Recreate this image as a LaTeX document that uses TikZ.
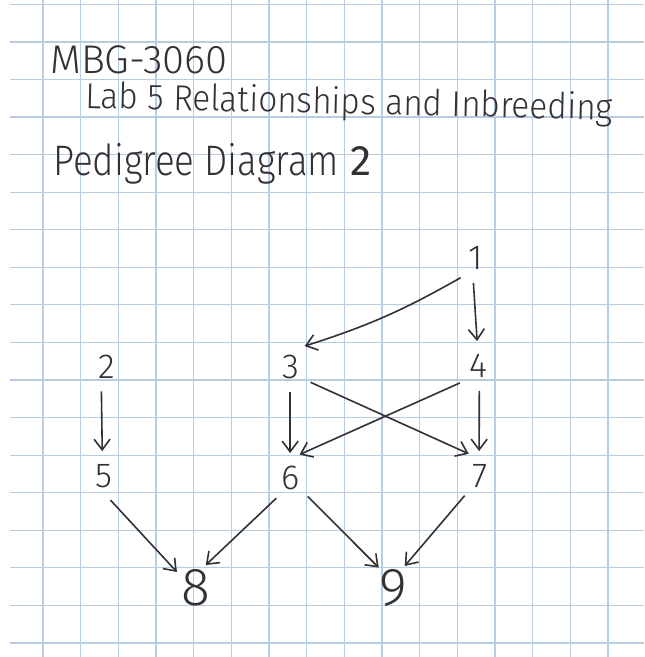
\documentclass[tikz,border=0pt]{standalone}
\usepackage{fontspec}
\setmainfont{Fira Sans}[UprightFont={* Light},BoldFont={*}]
\usetikzlibrary{arrows.meta}
\definecolor{gridblue}{RGB}{184,204,226}
\definecolor{pencil}{RGB}{50,50,54}

\begin{document}
\begin{tikzpicture}[x=0.75pt,y=-0.75pt,
  link/.style={draw=pencil,line width=1.2pt,-{Straight Barb[length=8pt,width=12pt]}},
  pers/.style={circle,inner sep=0pt,minimum size=37pt,text=pencil,font=\fontsize{26}{26}\selectfont},
  kid/.style={pers,font=\fontsize{40}{40}\selectfont},
  hand/.style={text=pencil,inner sep=0pt,anchor=base west}]
  \useasboundingbox (0,0) rectangle (644,657);
  \fill[white] (0,0) rectangle (644,657);
  \foreach \k in {0,...,15}
    \draw[gridblue,line width=0.9pt] ({43+37.67*\k},0) -- ({43+37.67*\k},657);
  \foreach \k in {0,...,17}
    \draw[gridblue,line width=0.9pt] (10,{4.4+37.56*\k}) -- (644,{4.4+37.56*\k});

  \node[hand,font=\fontsize{30}{30}\selectfont] (course) at (50,73) {MBG-3060};
  \node[hand,font=\fontsize{27}{27}\selectfont,rotate=-1.3] (lab) at (85,108)
    {\scalebox{0.93}[1]{Lab 5 Relationships and Inbreeding}};
  \node[hand,font=\fontsize{32}{32}\selectfont] (title) at (53,175)
    {\scalebox{0.86}[1]{Pedigree Diagram} \textbf{2}};

  \node[pers] (n1) at (476,258) {1};
  \node[pers] (n2) at (107,367) {2};
  \node[pers] (n3) at (291,367) {3};
  \node[pers] (n4) at (478,366) {4};
  \node[pers] (n5) at (104,476) {5};
  \node[pers] (n6) at (291,478) {6};
  \node[pers] (n7) at (480,476) {7};
  \node[kid] (n8) at (196,588) {8};
  \node[kid] (n9) at (393,588) {9};

  \draw[link] (n1.232) to[bend left=6] (n3.57);
  \draw[link] (n1.264) -- (n4.92);
  \draw[link] (n2.257) -- (n5.94);
  \draw[link] (n3.268) -- (n6.92);
  \draw[link] (n3.-38) -- (n7.117);
  \draw[link] (n4.223) -- (n6.70);
  \draw[link] (n4.273) -- (n7.92);
  \draw[link] (n5.285) -- (n8.140);
  \draw[link] (n6.234) -- (n8.67);
  \draw[link] (n6.312) -- (n9.125);
  \draw[link] (n7.232) -- (n9.62);
\end{tikzpicture}
\end{document}
